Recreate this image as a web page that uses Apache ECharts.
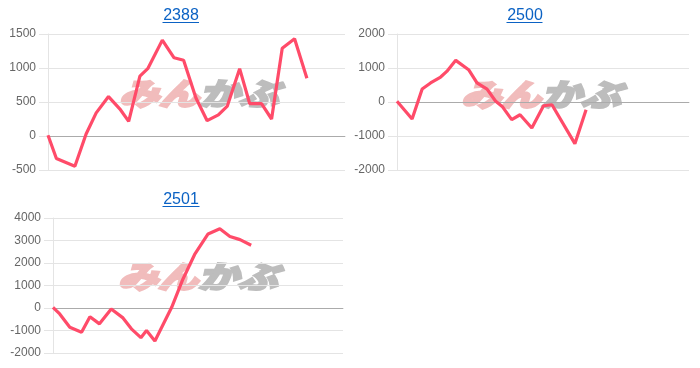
<!DOCTYPE html>
<html>
<head>
<meta charset="utf-8">
<script src="https://cdn.jsdelivr.net/npm/echarts@6/dist/echarts.min.js"></script>
<style>html,body{margin:0;padding:0;background:#fff}#c{width:700px;height:368px}</style>
</head>
<body>
<div id="c"></div>
<script>
// ---- data (x = trading-day position, y = value) ----
const titles = ['2388', '2500', '2501'];

const days2388 = [0, 0.75, 2.4, 3.4, 4.3, 5.4, 6.4, 7.2, 8.2, 8.9, 10.2, 11.25, 12.1, 13.2, 14.2, 15.2, 16.0, 17.1, 18.0, 19.05, 19.95, 20.9, 22.0, 23.1];
const vals2388 = [10, -330, -445, 30, 340, 580, 400, 215, 880, 990, 1410, 1150, 1115, 560, 225, 310, 440, 990, 475, 475, 250, 1290, 1430, 850];

const days2500 = [0, 1.35, 2.25, 3.0, 3.9, 4.45, 5.25, 6.4, 7.15, 8.05, 8.8, 9.4, 10.25, 11.0, 12.05, 13.1, 13.85, 15.9, 16.9];
const vals2500 = [20, -500, 380, 560, 735, 900, 1225, 950, 560, 380, 30, -130, -520, -375, -765, -110, -80, -1225, -230];

const days2501 = [0, 0.6, 1.5, 2.55, 3.3, 4.15, 5.2, 6.25, 7.0, 7.85, 8.35, 9.1, 10.6, 11.6, 12.65, 13.85, 14.9, 15.8, 16.7, 17.7];
const vals2501 = [30, -265, -855, -1075, -385, -705, -45, -440, -925, -1320, -1000, -1470, 30, 1280, 2380, 3290, 3520, 3180, 3040, 2790];

const xMax = [26.5, 26.1, 25.9];
const yMin = [-500, -2000, -2000];
const yMax = [1500, 2000, 4000];
const yStep = [500, 1000, 1000];

// ---- layout ----
const grids = [
  {left: 48, top: 34, width: 297, height: 136},
  {left: 397, top: 34, width: 292, height: 136},
  {left: 53, top: 218, width: 290, height: 135}
];
const titlePos = [[181, 8], [525, 8], [181, 192]];
const underline = [[162.5, 199, 22.5], [506.5, 542.5, 22.5], [162.5, 199.5, 206.5]];
const markPos = [[199, 93], [541, 94], [198, 276]];

const LINE = '#ff4b69';
const FONT = 'Liberation Sans, Arial, sans-serif';

const seriesData = [
  days2388.map((d, i) => [d, vals2388[i]]),
  days2500.map((d, i) => [d, vals2500[i]]),
  days2501.map((d, i) => [d, vals2501[i]])
];

const chart = echarts.init(document.getElementById('c'), null, {renderer: 'canvas'});

const graphic = [];
for (let i = 0; i < 3; i++) {
  graphic.push({
    type: 'line', silent: true, z: 10,
    shape: {x1: underline[i][0], y1: underline[i][2], x2: underline[i][1], y2: underline[i][2]},
    style: {stroke: '#0b62c4', lineWidth: 1}
  });
  graphic.push({
    type: 'text', silent: true, z: 0,
    x: markPos[i][0], y: markPos[i][1],
    scaleX: 1.25, scaleY: 0.95,
    style: {
      text: '{a|みん}{b|かぶ}',
      align: 'center', verticalAlign: 'middle',
      rich: {
        a: {fill: '#f1bcbc', stroke: '#f1bcbc', lineWidth: 3, fontSize: 32, fontWeight: 'bold', fontStyle: 'italic', fontFamily: '"Noto Sans CJK JP"'},
        b: {fill: '#bdbdbd', stroke: '#bdbdbd', lineWidth: 3, fontSize: 32, fontWeight: 'bold', fontStyle: 'italic', fontFamily: '"Noto Sans CJK JP"'}
      }
    }
  });
}

chart.setOption({
  animation: false,
  title: titles.map((t, i) => ({
    text: t, left: titlePos[i][0], top: titlePos[i][1], textAlign: 'center', padding: 0,
    textStyle: {fontSize: 16, fontWeight: 'normal', color: '#0b62c4', fontFamily: FONT}
  })),
  grid: grids,
  xAxis: grids.map((g, i) => ({
    type: 'value', gridIndex: i, min: 0, max: xMax[i],
    axisLine: {show: true, onZero: true, lineStyle: {color: 'rgba(0,0,0,0.25)', width: 1}},
    axisTick: {show: false}, axisLabel: {show: false}, splitLine: {show: false}
  })),
  yAxis: grids.map((g, i) => ({
    type: 'value', gridIndex: i, min: yMin[i], max: yMax[i], interval: yStep[i],
    axisLine: {show: true, lineStyle: {color: '#e4e4e4'}},
    axisTick: {show: true, length: 9, lineStyle: {color: '#e4e4e4'}},
    axisLabel: {color: '#666', fontSize: 12, fontFamily: FONT, margin: 12, formatter: v => String(v)},
    splitLine: {show: true, lineStyle: {color: '#e4e4e4'}}
  })),
  series: seriesData.map((d, i) => ({
    type: 'line', xAxisIndex: i, yAxisIndex: i, data: d,
    showSymbol: false, symbol: 'none', z: 5,
    lineStyle: {color: LINE, width: 3.2}
  })),
  graphic: graphic
});
</script>
</body>
</html>
